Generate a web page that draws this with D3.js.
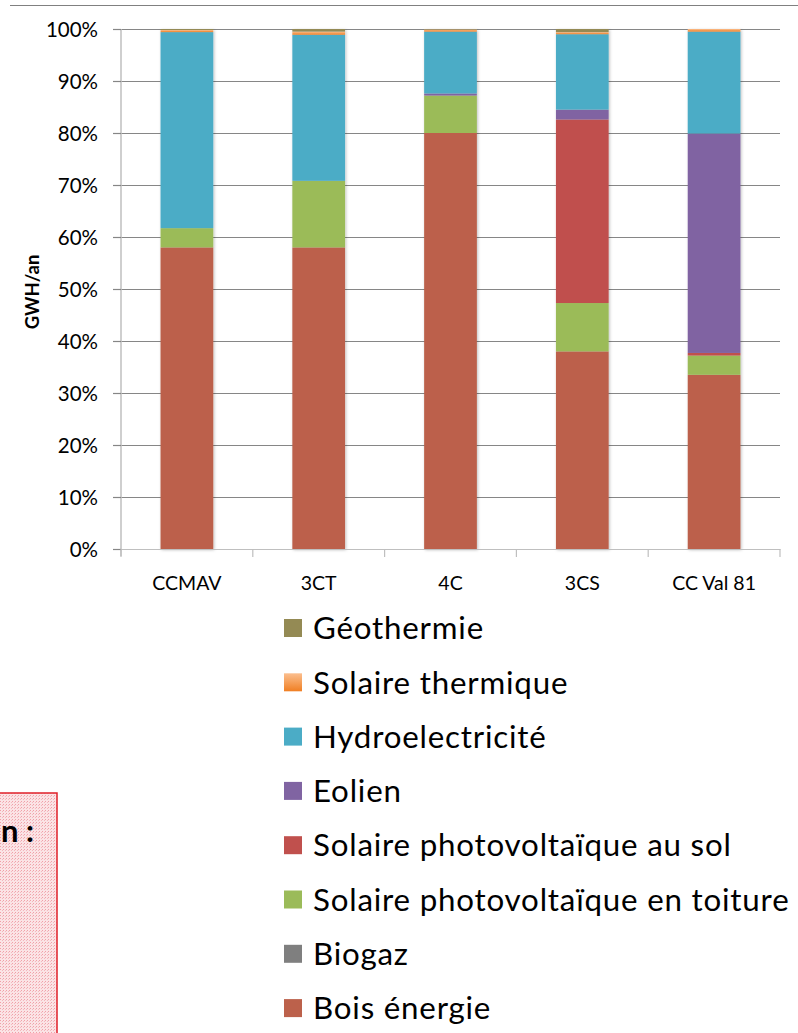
<!DOCTYPE html>
<html>
<head>
<meta charset="utf-8">
<script src="https://cdn.jsdelivr.net/npm/d3@7"></script>
<style>
  body { margin: 0; background: #fff; }
  svg { display: block; font-family: Lato, "Open Sans", sans-serif; }
</style>
</head>
<body>
<svg width="798" height="1033"></svg>
<script>
// categories and series (stack order, bottom to top)
var categories = ["CCMAV", "3CT", "4C", "3CS", "CC Val 81"];
var seriesNames = ["Bois énergie", "Biogaz", "Solaire photovoltaïque en toiture",
  "Solaire photovoltaïque au sol", "Eolien", "Hydroelectricité", "Solaire thermique", "Géothermie"];

// values in % of total
var boisEnergie   = [58.0, 58.0, 80.0, 38.0, 33.5];
var biogaz        = [0.0, 0.0, 0.0, 0.0, 0.0];
var pvToiture     = [3.7, 12.8, 7.2, 9.3, 3.7];
var pvSol         = [0.0, 0.0, 0.0, 35.3, 0.5];
var eolien        = [0.0, 0.0, 0.4, 1.9, 42.2];
var hydro         = [37.7, 28.1, 11.9, 14.5, 19.6];
var solaireTherm  = [0.4, 0.6, 0.4, 0.4, 0.5];
var geothermie    = [0.2, 0.5, 0.1, 0.6, 0.0];

var tickValues = [0, 10, 20, 30, 40, 50, 60, 70, 80, 90, 100];
var legendOrder = ["Géothermie", "Solaire thermique", "Hydroelectricité", "Eolien",
  "Solaire photovoltaïque au sol", "Solaire photovoltaïque en toiture", "Biogaz", "Bois énergie"];

var couleurs = {
  "Bois énergie": "#bc614b",
  "Biogaz": "#7f7f7f",
  "Solaire photovoltaïque en toiture": "#9bbb59",
  "Solaire photovoltaïque au sol": "#c0504d",
  "Eolien": "#8064a2",
  "Hydroelectricité": "#4bacc6",
  "Solaire thermique": "url(#gradOrange)",
  "Géothermie": "#948a54"
};

var valeurs = [boisEnergie, biogaz, pvToiture, pvSol, eolien, hydro, solaireTherm, geothermie];

// table for d3.stack
var table = categories.map(function(c, i) {
  var row = { cat: c };
  seriesNames.forEach(function(s, j) { row[s] = valeurs[j][i]; });
  return row;
});

var svg = d3.select("svg");
var defs = svg.append("defs");

var grad = defs.append("linearGradient").attr("id", "gradOrange")
  .attr("x1", 0).attr("y1", 0).attr("x2", 0).attr("y2", 1);
grad.append("stop").attr("offset", "0%").attr("stop-color", "#fbbf8f");
grad.append("stop").attr("offset", "100%").attr("stop-color", "#f07f23");

var ombre = defs.append("filter").attr("id", "ombre")
  .attr("x", "-20%").attr("y", "-5%").attr("width", "140%").attr("height", "110%");
ombre.append("feDropShadow").attr("dx", 1).attr("dy", 1).attr("stdDeviation", 1.5)
  .attr("flood-color", "#000").attr("flood-opacity", 0.25);

// pink dotted background for the cut-off box at the bottom left
var motif = defs.append("pattern").attr("id", "rose")
  .attr("width", 3).attr("height", 3).attr("patternUnits", "userSpaceOnUse");
motif.append("rect").attr("width", 3).attr("height", 3).attr("fill", "#fbe3e5");
motif.append("rect").attr("width", 1).attr("height", 1).attr("fill", "#f0a0a8");
motif.append("rect").attr("x", 2).attr("y", 1).attr("width", 1).attr("height", 1).attr("fill", "#f4b8be");

// line on top of the slide
svg.append("line").attr("x1", 10).attr("x2", 798).attr("y1", 5.5).attr("y2", 5.5)
  .attr("stroke", "#808080").attr("stroke-width", 1.2);

var gauche = 121, droite = 780, haut = 29, bas = 549;

var x = d3.scaleBand().domain(categories).range([gauche, droite]).padding(0);
var y = d3.scaleLinear().domain([0, 100]).range([bas, haut]);

// gridlines
svg.append("g")
  .attr("transform", "translate(" + gauche + ",0)")
  .call(d3.axisLeft(y).tickValues(tickValues).tickSize(-(droite - gauche)).tickFormat(""))
  .call(function(g) {
    g.select(".domain").remove();
    g.selectAll(".tick line").attr("stroke", "#868686").attr("stroke-width", 1.2);
  });

// y axis
svg.append("g")
  .attr("transform", "translate(" + gauche + ",0)")
  .call(d3.axisLeft(y).tickValues(tickValues).tickSize(8).tickSizeOuter(0)
    .tickFormat(function(d) { return d + "%"; }))
  .call(function(g) {
    g.attr("font-size", null).attr("font-family", null);
    g.select(".domain").attr("stroke", "#bfbfbf").attr("stroke-width", 1.5)
      .attr("d", "M0," + haut + "V" + (bas + 7));
    g.selectAll(".tick line").attr("stroke", "#868686").attr("stroke-width", 1.2);
    g.selectAll(".tick text").attr("x", -23).attr("dy", "0.36em")
      .attr("font-size", 20.5).attr("fill", "#000");
  });

// bars
var stack = d3.stack().keys(seriesNames)(table);
var bw = x.bandwidth() * 0.4;

svg.append("g").attr("filter", "url(#ombre)")
  .selectAll("g")
  .data(stack)
  .join("g")
    .attr("fill", function(d) { return couleurs[d.key]; })
  .selectAll("rect")
  .data(function(d) { return d; })
  .join("rect")
    .attr("x", function(d) { return x(d.data.cat) + (x.bandwidth() - bw) / 2; })
    .attr("y", function(d) { return y(d[1]); })
    .attr("width", bw)
    .attr("height", function(d) { return Math.max(0, y(d[0]) - y(d[1])); });

// x axis
svg.append("g")
  .attr("transform", "translate(0," + bas + ")")
  .call(d3.axisBottom(x).tickSize(0).tickSizeOuter(0))
  .call(function(g) {
    g.attr("font-size", null).attr("font-family", null);
    g.select(".domain").attr("stroke", "#bfbfbf").attr("stroke-width", 1.2);
    g.selectAll(".tick text").attr("y", 34).attr("dy", "0.36em")
      .attr("font-size", 19.5).attr("fill", "#000");
  });

// small separators between categories
var bornes = categories.map(function(c) { return x(c); }).concat([droite]);
svg.append("g").selectAll("line")
  .data(bornes)
  .join("line")
    .attr("x1", function(d) { return d; }).attr("x2", function(d) { return d; })
    .attr("y1", bas).attr("y2", bas + 8)
    .attr("stroke", "#bfbfbf").attr("stroke-width", 1.2);

// axis title
svg.append("text")
  .attr("transform", "translate(32,292) rotate(-90)")
  .attr("text-anchor", "middle").attr("dy", "0.36em")
  .attr("font-size", 18.5).attr("font-weight", "bold")
  .text("GWH/an");

// legend
var legende = svg.append("g").attr("transform", "translate(284,0)");
var lignes = legende.selectAll("g")
  .data(legendOrder)
  .join("g")
    .attr("transform", function(d, i) { return "translate(0," + (628 + i * 54.3) + ")"; });
lignes.append("rect")
  .attr("x", 0).attr("y", -9).attr("width", 18).attr("height", 18)
  .attr("fill", function(d) { return couleurs[d]; });
var textes = lignes.append("text")
  .attr("x", 29).attr("dy", "0.36em")
  .attr("font-size", 26).attr("letter-spacing", 0.8)
  .text(function(d) { return d; });

// fit the longest label to its width in the picture
var plusLong = d3.max(textes.nodes(), function(n) { return n.getComputedTextLength(); });
var taille = 26 * 482 / plusLong;
textes.attr("font-size", taille);

// cut-off box, bottom left
svg.append("rect").attr("x", -2).attr("y", 793).attr("width", 59).attr("height", 250)
  .attr("fill", "url(#rose)").attr("stroke", "#e0202a").attr("stroke-width", 1.5);
svg.append("text").attr("x", 34).attr("y", 842).attr("text-anchor", "end")
  .attr("font-size", 31).attr("font-weight", "bold").text("n :");
</script>
</body>
</html>
